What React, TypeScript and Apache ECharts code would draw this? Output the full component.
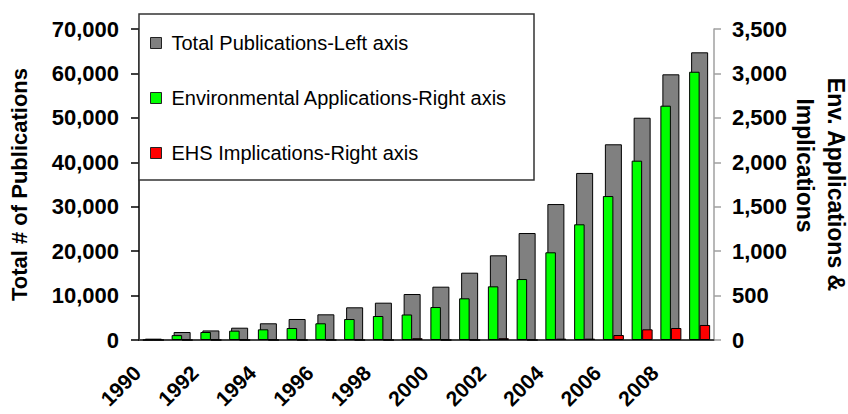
import React, { useEffect, useRef } from 'react';
import * as echarts from 'echarts';

const years = ['1990', '1991', '1992', '1993', '1994', '1995', '1996', '1997', '1998', '1999', '2000', '2001', '2002', '2003', '2004', '2005', '2006', '2007', '2008', '2009'];
const totalPublications = [300, 1800, 2150, 2770, 3760, 4730, 5780, 7360, 8400, 10350, 12000, 15150, 19060, 24080, 30600, 37600, 44050, 50030, 59800, 64750];
const envApplications = [0, 55, 90, 105, 120, 135, 188, 236, 270, 287, 371, 469, 604, 686, 987, 1302, 1620, 2018, 2637, 3019];
const ehsImplications = [0, 0, 0, 0, 0, 0, 0, 0, 0, 20, 0, 0, 20, 0, 15, 15, 56, 120, 135, 169];

const seriesNames = ['Total Publications-Left axis', 'Environmental Applications-Right axis', 'EHS Implications-Right axis'];
const seriesColors = ['#808080', '#00FF00', '#FF0000'];

const FONT = "'Liberation Sans', Arial, sans-serif";
const fmt = (v: number) => v.toLocaleString('en-US');

export default function App() {
  const ref = useRef<HTMLDivElement>(null);
  useEffect(() => {
    const chart = echarts.init(ref.current!, null, { renderer: 'svg' });
    const barBorder = { borderColor: '#000', borderWidth: 1 };
    const nameFont = { fontFamily: FONT, fontSize: 23, fontWeight: 'bold', color: '#000', lineHeight: 31 };
    chart.setOption({
      animation: false,
      backgroundColor: '#fff',
      textStyle: { fontFamily: FONT },
      grid: { left: 139, right: 134, top: 29, bottom: 74, outerBoundsMode: 'none' },
      graphic: [
        {
          type: 'rect',
          z: 3,
          shape: { x: 139, y: 14, width: 395, height: 166 },
          style: { fill: '#fff', stroke: '#333', lineWidth: 1.5 },
        },
      ],
      legend: {
        orient: 'vertical',
        left: 150,
        top: 32,
        padding: 0,
        itemWidth: 11,
        itemHeight: 11,
        itemGap: 33,
        z: 5,
        data: seriesNames.map((n, i) => ({
          name: n,
          icon: 'rect',
          itemStyle: { color: seriesColors[i], borderColor: '#222', borderWidth: 1 },
        })),
        textStyle: { fontFamily: FONT, fontSize: 20, color: '#000', lineHeight: 22, padding: [0, 0, 0, 5] },
      },
      xAxis: [
        {
          type: 'category',
          data: years,
          position: 'bottom',
          axisLine: { lineStyle: { color: '#444', width: 2 } },
          axisTick: { show: false },
          axisLabel: {
            interval: 1,
            rotate: 45,
            margin: 13,
            padding: [0, 23, 0, 0],
            fontFamily: FONT,
            fontSize: 21,
            fontWeight: 'bold',
            color: '#000',
          },
        },
        {
          type: 'category',
          data: years,
          show: false,
        },
      ],
      yAxis: [
        {
          type: 'value',
          position: 'left',
          min: 0,
          max: 70000,
          interval: 10000,
          name: 'Total # of Publications',
          nameLocation: 'middle',
          nameRotate: 90,
          nameGap: 109,
          nameMoveOverlap: false,
          nameTextStyle: { fontFamily: FONT, fontSize: 22, fontWeight: 'bold', color: '#000' },
          axisLine: { show: true, lineStyle: { color: '#000', width: 1.5 } },
          axisTick: { show: true, length: 8, lineStyle: { color: '#000', width: 1.5 } },
          splitLine: { show: false },
          axisLabel: { margin: 20, fontFamily: FONT, fontSize: 22, fontWeight: 'bold', color: '#000', formatter: fmt },
        },
        {
          type: 'value',
          position: 'right',
          min: 0,
          max: 3500,
          interval: 500,
          name: '{a|Env. Applications &}\n{b|Implications}',
          nameLocation: 'middle',
          nameRotate: -90,
          nameGap: 75,
          nameMoveOverlap: false,
          nameTextStyle: {
            ...nameFont,
            rich: {
              a: { ...nameFont },
              b: { ...nameFont, padding: [0, 38, 0, 0] },
            },
          },
          axisLine: { show: true, lineStyle: { color: '#a0a0a0', width: 1.5 } },
          axisTick: { show: true, length: 7, lineStyle: { color: '#a0a0a0', width: 1.5 } },
          splitLine: { show: false },
          axisLabel: { margin: 18, fontFamily: FONT, fontSize: 22, fontWeight: 'bold', color: '#000', formatter: fmt },
        },
      ],
      series: [
        {
          name: seriesNames[0],
          type: 'bar',
          xAxisIndex: 0,
          yAxisIndex: 0,
          barWidth: 17,
          data: totalPublications,
          itemStyle: { color: seriesColors[0], ...barBorder },
        },
        {
          name: seriesNames[1],
          type: 'bar',
          xAxisIndex: 1,
          yAxisIndex: 1,
          barWidth: 10.5,
          barGap: '0%',
          data: envApplications,
          itemStyle: { color: seriesColors[1], ...barBorder },
        },
        {
          name: seriesNames[2],
          type: 'bar',
          xAxisIndex: 1,
          yAxisIndex: 1,
          barWidth: 10.5,
          barGap: '0%',
          data: ehsImplications,
          itemStyle: { color: seriesColors[2], ...barBorder },
        },
      ],
    });
    return () => chart.dispose();
  }, []);
  return <div ref={ref} style={{ position: 'fixed', left: 0, top: 0, width: 848, height: 414 }} />;
}
